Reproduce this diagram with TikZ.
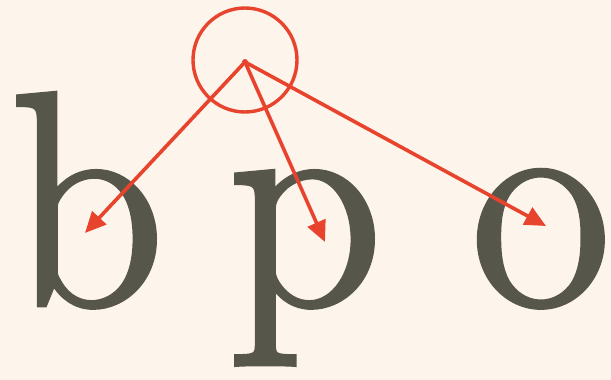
\documentclass[tikz,border=0pt]{standalone}
\usepackage{fontspec}
\usetikzlibrary{arrows.meta}
\newfontfamily\heavyserif{Latin Modern Roman}[FakeBold=1.6]
\definecolor{bg}{HTML}{FDF5EC}
\definecolor{ink}{HTML}{56564A}
\definecolor{redl}{HTML}{E8432C}
\begin{document}
\begin{tikzpicture}[x=1pt,y=-1pt,
  letter/.style={inner sep=0pt,anchor=base,text=ink,font=\heavyserif\fontsize{305}{305}\selectfont},
  ring/.style={circle,draw=redl,line width=3.4pt,minimum size=104pt,inner sep=0pt},
  pointer/.style={draw=redl,line width=3.6pt,-{Triangle[length=21pt,width=19pt]}}]
\fill[bg] (0,0) rectangle (611,380);
\useasboundingbox (0,0) rectangle (611,380);
\node[letter] (b) at (87,305) {b};
\node[letter] (p) at (305,305) {p};
\node[letter] (o) at (541,305) {o};
\node[ring] (c) at (245,60) {};
\coordinate (ctr) at (245,62);
\coordinate (tb) at (85,233);
\coordinate (tp) at (325,242);
\coordinate (to) at (546,226);
\fill[redl] (ctr) circle (3pt);
\draw[pointer] (ctr) -- (tb);
\draw[pointer] (ctr) -- (tp);
\draw[pointer] (ctr) -- (to);
\end{tikzpicture}
\end{document}
